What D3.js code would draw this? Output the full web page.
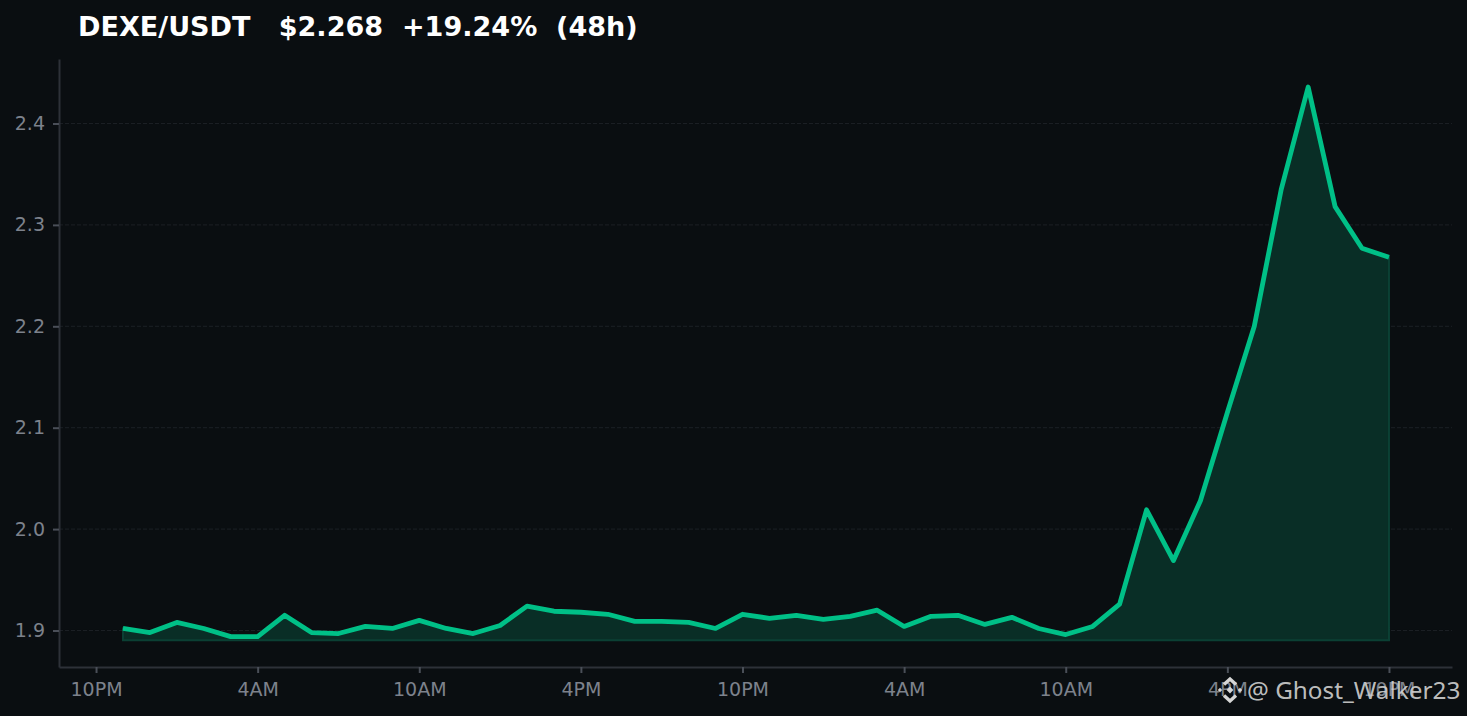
<!DOCTYPE html>
<html>
<head>
<meta charset="utf-8">
<script src="https://cdn.jsdelivr.net/npm/d3@7"></script>
<style>
    html, body { margin: 0; padding: 0; background: #0a0e11; overflow: hidden; }
    text { font-family: "DejaVu Sans", sans-serif; }
</style>
</head>
<body>
<svg id="main"></svg>
<script>
// hourly closes, last 48h
const prices = [
    1.902, 1.898, 1.908, 1.902, 1.894, 1.894, 1.915, 1.898, 1.897, 1.904,
    1.902, 1.910, 1.902, 1.897, 1.905, 1.924, 1.919, 1.918, 1.916, 1.909,
    1.909, 1.908, 1.902, 1.916, 1.912, 1.915, 1.911, 1.914, 1.920, 1.904,
    1.914, 1.915, 1.906, 1.913, 1.902, 1.896, 1.904, 1.926, 2.019, 1.969,
    2.028, 2.115, 2.200, 2.335, 2.436, 2.318, 2.277, 2.268
];
const hours = prices.map((p, i) => i + 1);
const xTickHours = [0, 6, 12, 18, 24, 30, 36, 42, 48];
const xTickLabels = ['10PM', '4AM', '10AM', '4PM', '10PM', '4AM', '10AM', '4PM', '10PM'];
const yTicks = [1.9, 2.0, 2.1, 2.2, 2.3, 2.4];
const areaFloor = 1.8905;
const title = 'DEXE/USDT\u00a0\u00a0\u00a0$2.268\u00a0\u00a0+19.24%\u00a0\u00a0(48h)';
const watermark = '@ Ghost_Walker23';

const w = 1467;
const h = 716;
const mLeft = 59, mRight = 1452, mTop = 59, mBottom = 667;

const svg = d3.select('#main').attr('width', w).attr('height', h).style('display', 'block');

svg.append('rect').attr('width', w).attr('height', h).attr('fill', '#0a0e11');

const x = d3.scaleLinear().domain([-1.375, 50.34]).range([mLeft, mRight]);
const y = d3.scaleLinear().domain([1.864, 2.4636]).range([mBottom, mTop]);

// grid
svg.append('g').selectAll('line')
    .data(yTicks)
    .enter()
    .append('line')
    .attr('x1', mLeft)
    .attr('x2', mRight)
    .attr('y1', d => y(d))
    .attr('y2', d => y(d))
    .attr('stroke', '#1c2025')
    .attr('stroke-width', 1)
    .attr('stroke-dasharray', '4 2');

// area + line
const area = d3.area()
    .x((d, i) => x(hours[i]))
    .y0(y(areaFloor))
    .y1(d => y(d));

svg.append('path')
    .attr('d', area(prices))
    .attr('fill', '#092e26')
    .attr('stroke', '#0b4034')
    .attr('stroke-width', 2);

const line = d3.line()
    .x((d, i) => x(hours[i]))
    .y(d => y(d));

svg.append('path')
    .attr('d', line(prices))
    .attr('fill', 'none')
    .attr('stroke', '#00c087')
    .attr('stroke-width', 4.8)
    .attr('stroke-linejoin', 'round');

// axes
const xAxis = d3.axisBottom(x)
    .tickValues(xTickHours)
    .tickFormat((d, i) => xTickLabels[i])
    .tickSize(6)
    .tickPadding(10)
    .tickSizeOuter(0);

const yAxis = d3.axisLeft(y)
    .tickValues(yTicks)
    .tickFormat(d3.format('.1f'))
    .tickSize(6)
    .tickPadding(8)
    .tickSizeOuter(0);

const gx = svg.append('g').attr('transform', `translate(0,${mBottom})`).call(xAxis);
const gy = svg.append('g').attr('transform', `translate(${mLeft},0)`).call(yAxis);

[gx, gy].forEach(g => {
    g.selectAll('.domain').attr('stroke', '#2d3138').attr('stroke-width', 2);
    g.selectAll('.tick line').attr('stroke', '#4a4f58').attr('stroke-width', 2);
    g.selectAll('.tick text')
        .attr('fill', '#7d828c')
        .style('font-size', '19px');
});

// title
svg.append('text')
    .attr('x', 78)
    .attr('y', 36)
    .attr('fill', '#ffffff')
    .style('font-size', '27.05px')
    .style('font-weight', 'bold')
    .text(title);

// watermark logo: two chevrons and three small diamonds
const logo = svg.append('g')
    .attr('transform', 'translate(1230,690)');

const chevrons = [
    [[-6, -5.5], [0, -11], [6, -5.5]],
    [[-6, 5.5], [0, 11], [6, 5.5]]
];
logo.selectAll('.chevron')
    .data(chevrons)
    .enter()
    .append('path')
    .attr('class', 'chevron')
    .attr('d', d => d3.line()(d))
    .attr('fill', 'none')
    .attr('stroke', '#d6d6d6')
    .attr('stroke-width', 3.4);

const diamonds = [[-10, 0, 2.2], [10, 0, 2.2], [0, 0, 3.4]];
logo.selectAll('.diamond')
    .data(diamonds)
    .enter()
    .append('path')
    .attr('class', 'diamond')
    .attr('d', d => d3.line()([[d[0] - d[2], d[1]], [d[0], d[1] - d[2]], [d[0] + d[2], d[1]], [d[0], d[1] + d[2]]]) + 'Z')
    .attr('fill', '#d6d6d6');

svg.append('text')
    .attr('x', 1247)
    .attr('y', 699)
    .attr('fill', '#d4d4d4')
    .attr('fill-opacity', 0.9)
    .style('font-family', '"Noto Sans", sans-serif')
    .style('font-size', '24.3px')
    .text(watermark);
</script>
</body>
</html>
